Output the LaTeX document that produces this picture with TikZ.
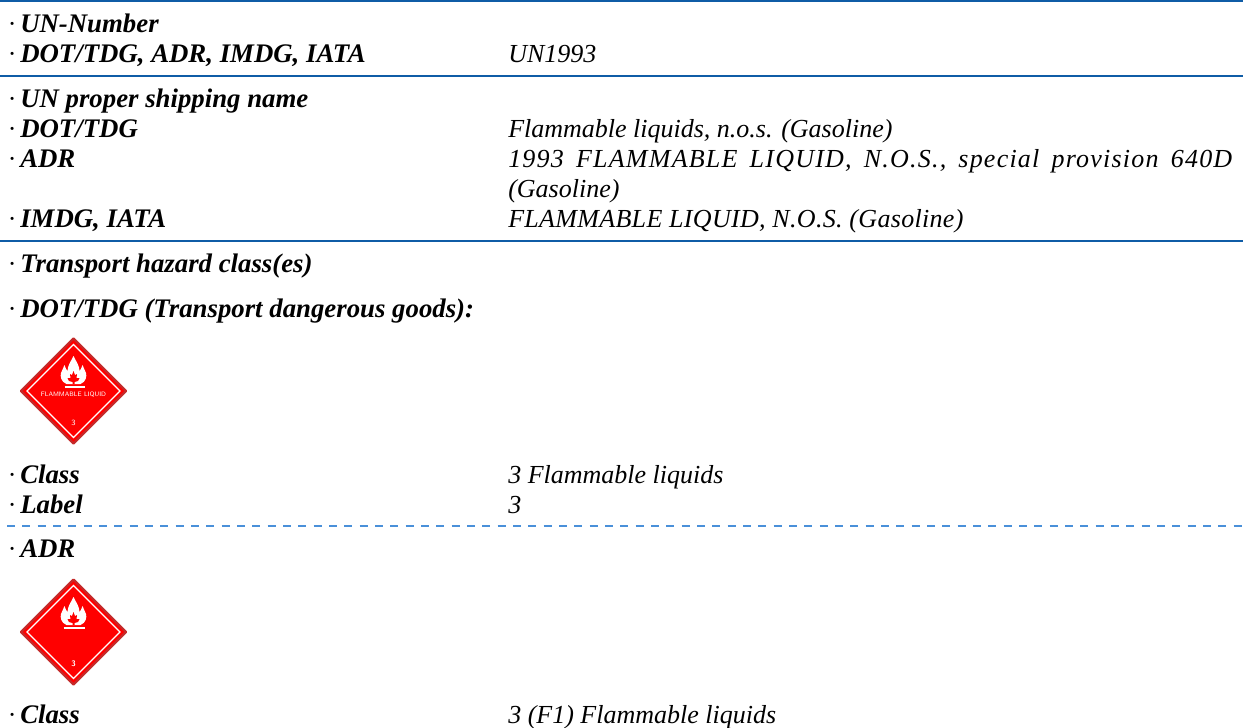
\documentclass[tikz,border=0pt]{standalone}
\usepackage{fontspec}
\setmainfont{Liberation Serif}
\newfontfamily\spaced[LetterSpace=4.7]{Liberation Serif}
\newfontfamily\spacedlight[LetterSpace=1.2]{Liberation Serif}
\definecolor{rule}{HTML}{0F5CA6}
\definecolor{dashrule}{HTML}{4A90D9}
\definecolor{hazred}{HTML}{FF0000}
\definecolor{hazedge}{HTML}{C42A2A}
\tikzset{
 x=0.75pt,y=-0.75pt,
 lab/.style={anchor=base west,inner sep=0pt,font=\fontsize{20.1pt}{23pt}\selectfont\bfseries\itshape},
 dotm/.style={anchor=base west,inner sep=0pt,font=\fontsize{19.5pt}{23pt}\selectfont},
 val/.style={anchor=base west,inner sep=0pt,font=\fontsize{19.5pt}{23pt}\selectfont\itshape},
 hrule/.style={draw=rule,line width=1.5pt},
}
\newcommand{\flame}{%
 \fill[white] (-7,14) .. controls (-12.5,12) and (-13.5,6) .. (-12.5,3)
   .. controls (-11.5,0) and (-10,-2) .. (-9,-5) .. controls (-8,-2) and (-7,0) .. (-6,1)
   .. controls (-6,-4) and (-3,-8) .. (0,-14) .. controls (3,-8) and (6,-4) .. (6,1)
   .. controls (7,0) and (8,-2) .. (9,-5) .. controls (10,-2) and (11.5,0) .. (12.5,3)
   .. controls (13.5,6) and (12.5,12) .. (7,14) -- cycle;
 \fill[hazred] (0,1) -- (1.5,5) -- (3.5,4) -- (3,8) -- (6,8) -- (4.5,11) -- (1,12) -- (1,14) -- (-1,14) -- (-1,12) -- (-4.5,11) -- (-6,8) -- (-3,8) -- (-3.5,4) -- (-1.5,5) -- cycle;
}
\newcommand{\hazard}[2]{%
 \begin{scope}[shift={(#1)}]
 \fill[hazred,draw=hazedge,line width=1.6pt,line join=round] (0,-52.5) -- (52.5,0) -- (0,52.5) -- (-52.5,0) -- cycle;
 \draw[white,line width=0.9pt] (0,-46.5) -- (46.5,0) -- (0,46.5) -- (-46.5,0) -- cycle;
 #2
 \end{scope}}
\begin{document}
\begin{tikzpicture}
\useasboundingbox (0,0) rectangle (1243,728);
\fill[white] (0,0) rectangle (1243,728);
\foreach \a/\b in {1/1,76/2,241/3}{
 \coordinate (l\b) at (0,\a); \coordinate (r\b) at (1243,\a);
 \draw[hrule] (l\b) -- (r\b);
}
\coordinate (dl) at (7,526); \coordinate (dr) at (1243,526);
\draw[dashrule,line width=0.9pt,dash pattern=on 6pt off 5.5pt] (dl) -- (dr);
\newcommand{\rowl}[3]{\node[dotm] (d#1) at (7.5,#2) {·}; \node[lab] (t#1) at (20,#2) {#3};}
\newcommand{\rowv}[3]{\node[val] (v#1) at (508,#2) {#3};}
\rowl{a}{32}{UN-Number}
\rowl{b}{62}{DOT/TDG, ADR, IMDG, IATA}\rowv{b}{62}{UN1993}
\rowl{c}{107}{UN proper shipping name}
\rowl{d}{137}{DOT/TDG}\rowv{d}{137}{Flammable liquids, n.o.s. (Gasoline)}
\rowl{e}{167}{ADR}
\node[val] (ve) at (508,167) {\makebox[543pt][s]{\spaced 1993\hfill FLAMMABLE\hfill LIQUID,\hfill N.O.S.,\hfill special\hfill provision\hfill 640D}};
\rowv{f}{197}{(Gasoline)}
\rowl{g}{227}{IMDG, IATA}\rowv{g}{227}{\spacedlight FLAMMABLE LIQUID, N.O.S. (Gasoline)}
\rowl{h}{272}{Transport hazard class(es)}
\rowl{i}{317}{DOT/TDG (Transport dangerous goods):}
\rowl{j}{483}{Class}\rowv{j}{483}{3 Flammable liquids}
\rowl{k}{513}{Label}\rowv{k}{513}{3}
\rowl{l}{557}{ADR}
\rowl{m}{723}{Class}\rowv{m}{723}{3 (F1) Flammable liquids}
\hazard{73.5,391}{%
 \begin{scope}[shift={(0,-21)}]\flame\end{scope}
 \draw[white,line width=1.3pt] (-9,-4) -- (11,-4);
 \node[white,inner sep=0pt,font=\fontsize{4.8pt}{6pt}\selectfont\sffamily] (fl) at (0,4) {FLAMMABLE LIQUID};
 \node[white,inner sep=0pt,font=\fontsize{6pt}{7pt}\selectfont\sffamily] (n1) at (0,32) {3};
}
\hazard{73.5,632}{%
 \begin{scope}[shift={(0,-21)}]\flame\end{scope}
 \draw[white,line width=0.8pt] (-10,-4) -- (11,-4);
 \node[white,inner sep=0pt,font=\fontsize{6pt}{7pt}\selectfont\bfseries\sffamily] (n2) at (0,32) {3};
}
\end{tikzpicture}
\end{document}
